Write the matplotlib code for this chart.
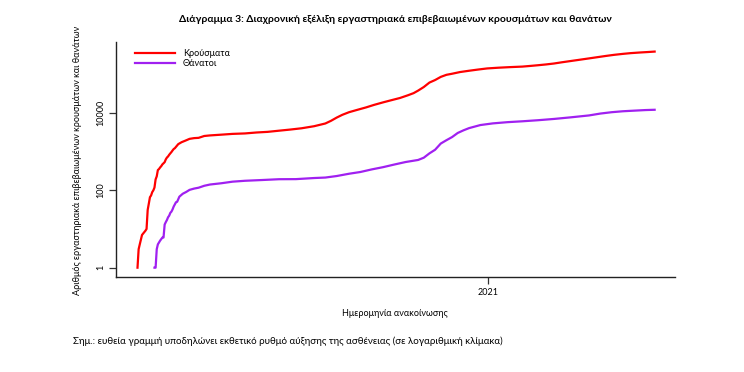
import matplotlib
matplotlib.use("Agg")
import matplotlib.pyplot as plt
import matplotlib.dates as mdates
import numpy as np
import pandas as pd

plt.rcParams['font.family'] = ['Lato', 'DejaVu Sans']

# Αθροιστικά κρούσματα (διαβασμένα από το διάγραμμα)
case_dates = ["2020-02-26", "2020-02-27", "2020-02-28", "2020-03-01", "2020-03-04",
              "2020-03-05", "2020-03-06", "2020-03-07", "2020-03-08", "2020-03-09",
              "2020-03-10", "2020-03-11", "2020-03-12", "2020-03-13", "2020-03-14",
              "2020-03-15", "2020-03-16", "2020-03-17", "2020-03-18", "2020-03-19",
              "2020-03-20", "2020-03-21", "2020-03-22", "2020-03-23", "2020-03-24",
              "2020-03-25", "2020-03-26", "2020-03-27", "2020-03-28", "2020-03-29",
              "2020-03-30", "2020-03-31", "2020-04-02", "2020-04-05", "2020-04-08",
              "2020-04-12", "2020-04-16", "2020-04-20", "2020-04-25", "2020-04-30",
              "2020-05-10", "2020-05-20", "2020-05-31", "2020-06-10", "2020-06-20",
              "2020-06-30", "2020-07-10", "2020-07-20", "2020-07-31", "2020-08-05",
              "2020-08-10", "2020-08-15", "2020-08-20", "2020-08-25", "2020-08-31",
              "2020-09-07", "2020-09-15", "2020-09-22", "2020-09-30", "2020-10-07",
              "2020-10-15", "2020-10-22", "2020-10-27", "2020-10-31", "2020-11-05",
              "2020-11-10", "2020-11-15", "2020-11-20", "2020-11-25", "2020-11-30",
              "2020-12-07", "2020-12-15", "2020-12-23", "2020-12-31", "2021-01-10",
              "2021-01-20", "2021-01-31", "2021-02-07", "2021-02-14", "2021-02-21",
              "2021-02-28", "2021-03-07", "2021-03-15", "2021-03-22", "2021-03-31",
              "2021-04-07", "2021-04-15", "2021-04-22", "2021-04-30", "2021-05-07",
              "2021-05-15", "2021-05-22", "2021-05-28"]
cases = [1, 3, 4, 7, 9,
         10, 31, 45, 66, 73,
         89, 99, 117, 190, 228,
         331, 352, 387, 418, 464,
         495, 530, 624, 695, 743,
         821, 892, 966, 1061, 1156,
         1212, 1314, 1544, 1735, 1884,
         2114, 2207, 2245, 2506, 2591,
         2710, 2840, 2917, 3083, 3203,
         3432, 3672, 3964, 4477, 4855,
         5270, 6177, 7472, 8819, 10317,
         11800, 13700, 15900, 18475, 20900,
         24000, 28200, 32000, 37196, 46000,
         60000, 69675, 84000, 95000, 101287,
         112000, 121000, 130000, 138850, 145000,
         150000, 154796, 161000, 168000, 176000,
         186000, 200000, 216000, 231000, 252000,
         270000, 292000, 311000, 330000, 345000,
         358000, 368000, 378000]

# Αθροιστικοί θάνατοι
death_dates = ["2020-03-12", "2020-03-13", "2020-03-14", "2020-03-15", "2020-03-17",
               "2020-03-19", "2020-03-20", "2020-03-21", "2020-03-22", "2020-03-23",
               "2020-03-24", "2020-03-25", "2020-03-26", "2020-03-27", "2020-03-28",
               "2020-03-29", "2020-03-30", "2020-03-31", "2020-04-01", "2020-04-03",
               "2020-04-06", "2020-04-09", "2020-04-12", "2020-04-16", "2020-04-20",
               "2020-04-25", "2020-04-30", "2020-05-10", "2020-05-20", "2020-05-31",
               "2020-06-15", "2020-06-30", "2020-07-15", "2020-07-31", "2020-08-10",
               "2020-08-20", "2020-08-31", "2020-09-10", "2020-09-20", "2020-09-30",
               "2020-10-10", "2020-10-20", "2020-10-31", "2020-11-05", "2020-11-10",
               "2020-11-15", "2020-11-20", "2020-11-25", "2020-11-30", "2020-12-05",
               "2020-12-10", "2020-12-15", "2020-12-25", "2021-01-05", "2021-01-18",
               "2021-01-31", "2021-02-14", "2021-02-28", "2021-03-15", "2021-03-31",
               "2021-04-10", "2021-04-20", "2021-04-30", "2021-05-10", "2021-05-20",
               "2021-05-28"]
deaths = [1, 1, 3, 4, 5,
          6, 6, 13, 15, 17,
          20, 22, 26, 28, 32,
          38, 43, 49, 50, 68,
          81, 90, 102, 110, 116,
          130, 140, 151, 166, 175,
          183, 192, 193, 206, 212,
          232, 266, 295, 344, 393,
          460, 534, 603, 690, 893,
          1106, 1600, 1950, 2350, 3000,
          3500, 4000, 4800, 5300, 5700,
          6000, 6400, 6900, 7600, 8500,
          9500, 10300, 10900, 11300, 11700,
          11900]

fig = plt.figure(figsize=(7.44, 3.72), dpi=100)
ax = fig.add_axes([116/744, 1 - 277/372, (675 - 116)/744, (277 - 42)/372])

ax.plot(pd.to_datetime(case_dates), cases, color='#FF0000', lw=1.6, label='Κρούσματα')
ax.plot(pd.to_datetime(death_dates), deaths, color='#A020F0', lw=1.6, label='Θάνατοι')

ax.set_yscale('log')
ax.set_ylim(0.575, 668000)
ax.set_xlim(pd.Timestamp("2020-02-07"), pd.Timestamp("2021-06-15"))

ax.set_yticks([1, 100, 10000])
ax.set_yticklabels(["1", "100", "10000"], rotation=90, va='center', fontsize=6.5)
ax.yaxis.set_minor_locator(matplotlib.ticker.NullLocator())
ax.set_xticks([pd.Timestamp("2021-01-01")])
ax.set_xticklabels(["2021"], fontsize=6.5)
ax.tick_params(length=5, width=0.9, color='#333333', pad=3)

for s in ['top', 'right']:
    ax.spines[s].set_visible(False)
for s in ['left', 'bottom']:
    ax.spines[s].set_color('#222222')
    ax.spines[s].set_linewidth(1.0)

ax.legend(loc='upper left', bbox_to_anchor=(0.022, 1.0), frameon=False, fontsize=6.5,
          handlelength=4.4, handletextpad=0.9, labelspacing=0.15, borderaxespad=0.35)

fig.text(395/744, 1 - 20/372, "Διάγραμμα 3: Διαχρονική εξέλιξη εργαστηριακά επιβεβαιωμένων κρουσμάτων και θανάτων",
         ha='center', va='center', fontsize=7.5, fontweight='bold')
fig.text(78/744, 1 - 160/372, "Αριθμός εργαστηριακά επιβεβαιωμένων κρουσμάτων και θανάτων",
         ha='center', va='center', rotation=90, fontsize=6.5)
fig.text(395/744, 1 - 313/372, "Ημερομηνία ανακοίνωσης", ha='center', va='center', fontsize=6.5)
fig.text(73/744, 1 - 341/372, "Σημ.: ευθεία γραμμή υποδηλώνει εκθετικό ρυθμό αύξησης της ασθένειας (σε λογαριθμική κλίμακα)",
         ha='left', va='center', fontsize=7)

fig.savefig("out.png", dpi=100)
